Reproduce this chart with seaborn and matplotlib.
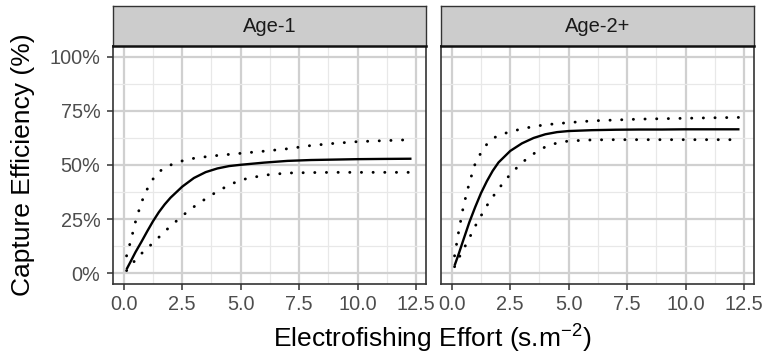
import numpy as np
import pandas as pd
import matplotlib
matplotlib.use("Agg")
import matplotlib.pyplot as plt
from matplotlib.ticker import FixedLocator, FuncFormatter
import seaborn as sns

# ---- data ----
panels = ["Age-1", "Age-2+"]
effort = [0.12, 0.3, 0.5, 0.75, 1.0, 1.25, 1.5, 1.75, 2.0, 2.5, 3.0, 3.5,
          4.0, 4.5, 5.0, 6.0, 7.0, 8.0, 9.0, 10.0, 11.0, 12.3]

age1_fit = [1.8, 5.5, 9.7, 14.4, 19.3, 24.0, 28.2, 31.8, 34.9, 40.0, 44.0, 46.7,
            48.4, 49.5, 50.1, 51.1, 51.9, 52.3, 52.5, 52.7, 52.8, 52.9]
age1_upper = [8.0, 15.0, 23.7, 32.6, 38.8, 43.5, 46.8, 48.7, 50.0, 51.9, 53.1, 53.8,
              54.4, 54.9, 55.4, 56.4, 57.5, 59.0, 60.0, 60.8, 61.2, 61.7]
age1_lower = [1.2, 3.4, 6.2, 9.0, 11.5, 14.0, 16.6, 19.3, 21.7, 26.5, 30.7, 34.4,
              37.8, 40.7, 43.1, 45.3, 46.3, 46.5, 46.6, 46.6, 46.6, 46.6]

age2_fit = [3.5, 9.0, 15.5, 23.5, 30.5, 37.0, 42.5, 47.3, 51.2, 56.5, 60.0, 62.5,
            64.2, 65.2, 65.7, 66.1, 66.3, 66.4, 66.4, 66.5, 66.5, 66.5]
age2_upper = [8.0, 19.5, 31.0, 41.7, 50.6, 55.7, 59.6, 62.2, 63.7, 65.4, 66.7, 67.8,
              68.6, 69.1, 69.6, 70.4, 70.8, 71.2, 71.4, 71.6, 71.8, 72.0]
age2_lower = [3.0, 7.0, 11.0, 16.2, 21.7, 26.5, 31.2, 35.2, 39.0, 45.7, 51.1, 55.2,
              58.4, 60.2, 61.1, 61.6, 61.7, 61.7, 61.7, 61.7, 61.7, 61.7]

x_ticks = [0.0, 2.5, 5.0, 7.5, 10.0, 12.5]
y_ticks = [0, 25, 50, 75, 100]
y_title = "Capture Efficiency (%)"
x_title = r"Electrofishing Effort (s.m$^{-2}$)"

series = {
    "Age-1": {"fit": age1_fit, "upper": age1_upper, "lower": age1_lower},
    "Age-2+": {"fit": age2_fit, "upper": age2_upper, "lower": age2_lower},
}
rows = []
for p in panels:
    for kind, vals in series[p].items():
        for xv, yv in zip(effort, vals):
            rows.append({"panel": p, "kind": kind, "effort": xv, "eff": yv})
df = pd.DataFrame(rows)

# ---- style ----
sns.set_theme(style="white")
TICK_FS = 14.3
plt.rcParams["font.family"] = ["Liberation Sans", "DejaVu Sans"]
plt.rcParams["mathtext.fontset"] = "custom"
plt.rcParams["mathtext.rm"] = "Liberation Sans"
plt.rcParams["mathtext.it"] = "Liberation Sans:italic"
plt.rcParams["mathtext.default"] = "regular"
plt.rcParams["xtick.labelsize"] = TICK_FS
plt.rcParams["ytick.labelsize"] = TICK_FS

W, H = 767, 362
fig = plt.figure(figsize=(W / 100, H / 100), dpi=100)
fig.patch.set_facecolor("white")

panel_px = {"Age-1": (113, 426), "Age-2+": (441, 754)}
top_px, bot_px, strip_top_px = 46, 284, 6

dark = "#333333"
for i, p in enumerate(panels):
    x0, x1 = panel_px[p]
    ax = fig.add_axes([x0 / W, 1 - bot_px / H, (x1 - x0) / W, (bot_px - top_px) / H])
    sub = df[df.panel == p]
    for kind in ["fit", "upper", "lower"]:
        d = sub[sub.kind == kind]
        sns.lineplot(data=d, x="effort", y="eff", ax=ax, color="black",
                     estimator=None, sort=True, legend=False)
        ln = ax.lines[-1]
        if kind == "fit":
            ln.set_linewidth(1.7)
            ln.set_solid_capstyle("butt")
        else:
            ln.set_linewidth(2.1)
            ln.set_linestyle((0, (0.05, 3.95)))
            ln.set_dash_capstyle("round")
    ax.set_xlim(-0.46, 12.92)
    ax.set_ylim(-5, 105)
    ax.xaxis.set_major_locator(FixedLocator(x_ticks))
    ax.xaxis.set_minor_locator(FixedLocator([1.25, 3.75, 6.25, 8.75, 11.25]))
    ax.yaxis.set_major_locator(FixedLocator(y_ticks))
    ax.yaxis.set_minor_locator(FixedLocator([12.5, 37.5, 62.5, 87.5]))
    ax.xaxis.set_major_formatter(FuncFormatter(lambda v, _: f"{v:.1f}"))
    ax.yaxis.set_major_formatter(FuncFormatter(lambda v, _: f"{v:.0f}%"))
    ax.set_axisbelow(True)
    ax.grid(which="major", color="#D0D0D0", linewidth=1.6)
    ax.grid(which="minor", color="#E8E8E8", linewidth=0.9)
    ax.set_xlabel("")
    ax.set_ylabel("")
    for s in ax.spines.values():
        s.set_color(dark)
        s.set_linewidth(1.2)
    ax.tick_params(axis="x", which="major", length=4.6, width=1.1, color=dark,
                   labelsize=TICK_FS, labelcolor="#4D4D4D", pad=3.5, bottom=True)
    ax.tick_params(axis="y", which="major", length=4.6, width=1.1, color=dark,
                   labelsize=TICK_FS, labelcolor="#4D4D4D", pad=4.5,
                   left=(i == 0), labelleft=(i == 0))
    ax.tick_params(which="minor", length=0)

    # strip
    sax = fig.add_axes([x0 / W, 1 - top_px / H, (x1 - x0) / W, (top_px - strip_top_px) / H])
    sax.set_facecolor("#CCCCCC")
    sax.set_xticks([])
    sax.set_yticks([])
    for s in sax.spines.values():
        s.set_color(dark)
        s.set_linewidth(1.0)
    sax.spines["bottom"].set_linewidth(1.8)
    sax.spines["bottom"].set_color("#111111")
    sax.text(0.5, 0.5, p, transform=sax.transAxes, ha="center", va="center",
             fontsize=14.5, color="#1A1A1A")

fig.text(23 / W, 1 - 165 / H, y_title, rotation=90, ha="center", va="center",
         fontsize=19, color="black")
fig.text(432 / W, 1 - 348 / H, x_title, ha="center", va="baseline",
         fontsize=19, color="black")

fig.savefig("out.png", dpi=100)
